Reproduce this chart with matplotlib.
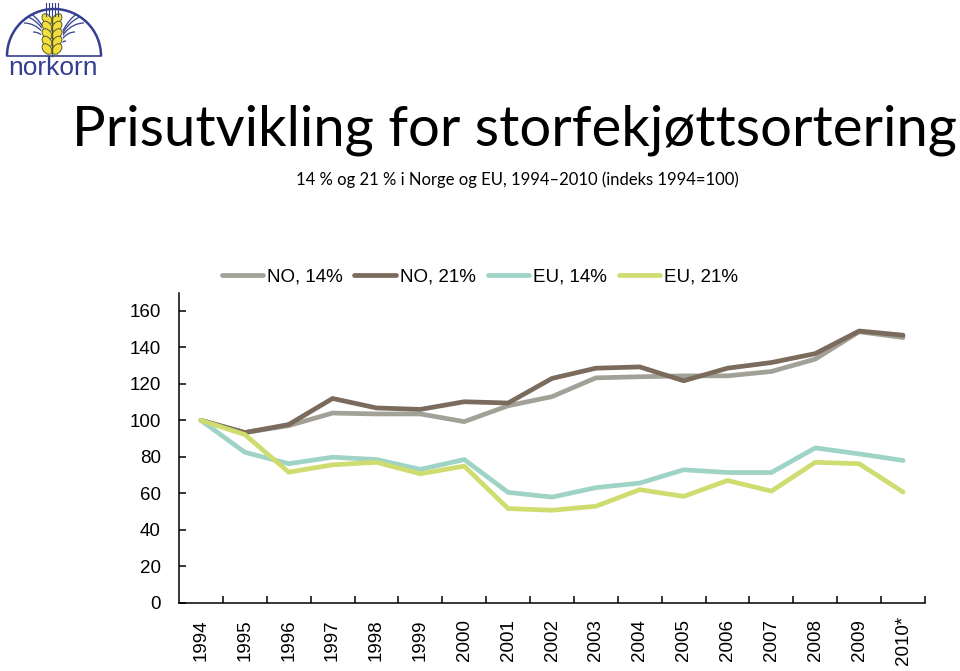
import matplotlib
matplotlib.use('Agg')
import matplotlib.pyplot as plt
import numpy as np
from matplotlib.patches import Arc, Ellipse, Circle

# data (index 1994=100)
years = ['1994', '1995', '1996', '1997', '1998', '1999', '2000', '2001', '2002',
         '2003', '2004', '2005', '2006', '2007', '2008', '2009', '2010*']
no_14 = [100, 93.3, 97.1, 104.0, 103.5, 103.5, 99.3, 108.0, 113.0,
         123.3, 123.9, 124.4, 124.4, 126.8, 133.6, 148.6, 145.4]
no_21 = [100, 93.3, 97.7, 112.0, 106.8, 106.0, 110.2, 109.5, 123.0,
         128.6, 129.3, 121.7, 128.6, 131.7, 136.6, 149.0, 146.7]
eu_14 = [100, 82.5, 76.2, 79.8, 78.5, 73.1, 78.5, 60.5, 57.9,
         63.1, 65.6, 72.9, 71.4, 71.4, 84.9, 81.6, 78.0]
eu_21 = [100, 92.2, 71.6, 75.6, 77.0, 70.7, 74.9, 51.6, 50.7,
         52.9, 62.0, 58.3, 67.0, 61.2, 77.0, 76.2, 60.7]

names = ['NO, 14%', 'NO, 21%', 'EU, 14%', 'EU, 21%']
colors = ['#a2a198', '#7a6b5c', '#9ed3c6', '#cfdc70']

fig = plt.figure(figsize=(9.6, 6.71), dpi=100)
ax = fig.add_axes([179/960, 1-602.7/671, 746/960, 310/671])

x = np.arange(len(years))
for vals, name, c in zip([no_14, no_21, eu_14, eu_21], names, colors):
    ax.plot(x, vals, color=c, lw=3.4, label=name,
            solid_capstyle='round', solid_joinstyle='round')

ax.set_xlim(-0.5, len(years) - 0.5)
ax.set_ylim(0, 170)
ax.set_yticks(np.arange(0, 161, 20))
ax.set_xticks(x)
ax.set_xticklabels(years, rotation=90, va='center', ha='center', fontsize=13.5,
                   family='Liberation Sans')
ax.set_xticks(np.arange(0.5, len(years), 1), minor=True)
ax.tick_params(axis='x', which='major', length=0, pad=27)
ax.tick_params(axis='x', which='minor', direction='in', length=5, width=1.1)
ax.tick_params(axis='y', direction='in', length=5, width=1.1, pad=13, labelsize=13.5)
for lab in ax.get_yticklabels():
    lab.set_family('Liberation Sans')
for s in ['top', 'right']:
    ax.spines[s].set_visible(False)
for s in ['left', 'bottom']:
    ax.spines[s].set_linewidth(1.1)

fig.legend(loc='center', bbox_to_anchor=(480/960, 1-277/671), ncol=4, frameon=False,
           prop={'family': 'Liberation Sans', 'size': 13.5},
           handlelength=2.2, handletextpad=0.25, columnspacing=0.6)

# titles
fig.text(515/960, 1-130/671, 'Prisutvikling for storfekjøttsortering',
         ha='center', va='center', fontsize=40.5, family='Lato')
fig.text(517/960, 1-180/671, '14 % og 21 % i Norge og EU, 1994\u20132010 (indeks 1994=100)',
         ha='center', va='center', fontsize=12, family='Lato')

# logo (y axis points down, so arcs go from 180 to 360 degrees)
lax = fig.add_axes([0, 1-85/671, 110/960, 85/671])
lax.set_xlim(0, 110)
lax.set_ylim(85, 0)
lax.axis('off')
navy = '#34408f'
cx, cy, r = 54, 56, 47
dome = Circle((cx, cy), r, transform=lax.transData, facecolor='none', edgecolor='none')
lax.add_patch(dome)
lax.add_patch(Arc((cx, cy), 2*r, 2*r, theta1=180, theta2=360, color=navy, lw=1.8))
lax.plot([cx - r, cx + r], [cy, cy], color=navy, lw=1.2)
for k in range(1, 6):
    rr = 9 * k
    a1 = Arc((cx - 3 - rr, cy), 2*rr, 2*(r - 2)*k/5 + 12, theta1=270, theta2=360,
             color=navy, lw=0.9)
    a2 = Arc((cx + 3 + rr, cy), 2*rr, 2*(r - 2)*k/5 + 12, theta1=180, theta2=270,
             color=navy, lw=0.9)
    for a in (a1, a2):
        lax.add_patch(a)
        a.set_clip_path(dome)
for dx in [-6, -3, 0, 3, 6]:
    lax.plot([cx - 2 + dx, cx - 2 + dx], [3, 16], color=navy, lw=0.8)
lax.add_patch(Ellipse((cx - 2, 36), 22, 44, facecolor='white', edgecolor='none'))
lax.plot([cx - 2, cx - 2], [16, 56], color='#5a5a30', lw=1.0)
for k in range(5):
    yy = 19 + k * 7.5
    lax.add_patch(Ellipse((cx - 7, yy), 8, 12, angle=-40, facecolor='#f2df3c',
                          edgecolor='#5a5a30', lw=0.7))
    lax.add_patch(Ellipse((cx + 3, yy), 8, 12, angle=40, facecolor='#f2df3c',
                          edgecolor='#5a5a30', lw=0.7))
lax.text(53, 68, 'norkorn', ha='center', va='center', fontsize=19, color=navy,
         family='Liberation Sans')

fig.savefig('out.png', dpi=100)
